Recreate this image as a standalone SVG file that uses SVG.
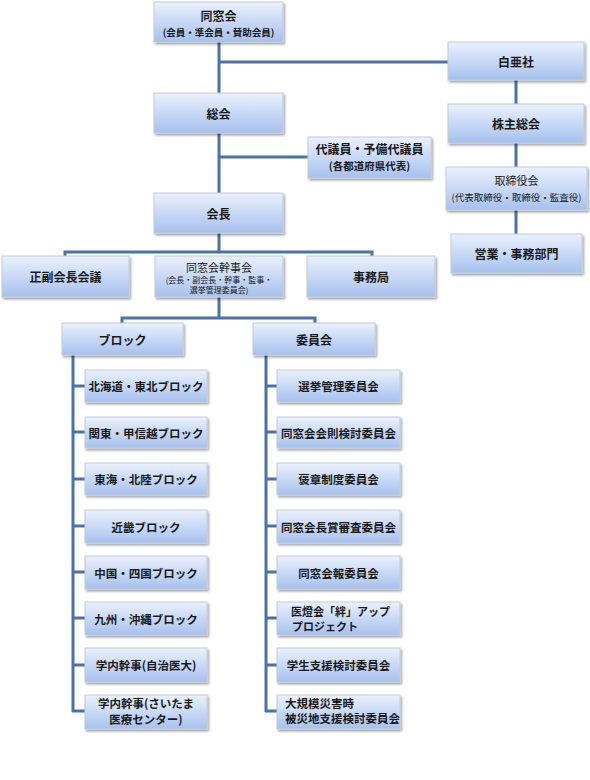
<svg xmlns="http://www.w3.org/2000/svg" width="590" height="780" viewBox="0 0 590 780">
<defs>
<linearGradient id="g" x1="0" y1="0" x2="0" y2="1">
<stop offset="0" stop-color="#eaf1fd"/>
<stop offset="1" stop-color="#a6c1ee"/>
</linearGradient>
<filter id="sh" x="-10%" y="-10%" width="125%" height="140%">
<feDropShadow dx="1.5" dy="2" stdDeviation="1.2" flood-color="#000" flood-opacity="0.35"/>
</filter>
</defs>
<style>
.b{fill:url(#g);stroke:#c4cbd6;stroke-width:1;filter:url(#sh)}
.t{font-family:"Noto Sans CJK JP","Noto Sans",sans-serif;font-weight:bold;font-size:12px;fill:#1a1a1a;text-anchor:middle;dominant-baseline:central}
.s{font-size:9.5px}
.m{font-size:11.5px}
.n{font-weight:normal}
.l{text-anchor:start}
.c{fill:none;stroke:#4a73a8;stroke-width:3}
</style>
<g id="connectors">
<path class="c" d="M219,42V93M219,62H448M219,133V193M219,157H308M219,233V252M65,256V252H372V256M219,297V318M122,323V318H315V323"/>
<path class="c" d="M516,80V104M516,143V167M516,210V234"/>
<path class="c" d="M73,355V712M72,386H85M72,432H85M72,479H85M72,526H85M72,572H85M72,618H85M72,665H85M72,711H85"/>
<path class="c" d="M266,355V712M265,386H277M265,432H277M265,479H277M265,526H277M265,572H277M265,618H277M265,665H277M265,711H277"/>
</g>
<g id="dosokai"><rect class="b" x="154" y="2" width="129" height="40"/><text class="t" x="218.5" y="15">同窓会</text><text class="t s" x="218.5" y="32">(会員・準会員・賛助会員)</text></g>
<g id="hakuasha"><rect class="b" x="448" y="42" width="136" height="38"/><text class="t" x="516" y="61">白亜社</text></g>
<g id="sokai"><rect class="b" x="154" y="93" width="129" height="40"/><text class="t" x="218.5" y="113">総会</text></g>
<g id="kabunushi"><rect class="b" x="448" y="104" width="136" height="39"/><text class="t" x="516" y="123.5">株主総会</text></g>
<g id="daigiin"><rect class="b" x="308" y="137" width="123" height="41"/><text class="t" x="369.5" y="148">代議員・予備代議員</text><text class="t" style="font-size:10.5px" x="369.5" y="165">(各都道府県代表)</text></g>
<g id="torishimariyaku"><rect class="b" x="446" y="167" width="141" height="43"/><text class="t n" style="font-size:11px" x="516.5" y="180">取締役会</text><text class="t s n" x="516.5" y="197">(代表取締役・取締役・監査役)</text></g>
<g id="kaicho"><rect class="b" x="154" y="193" width="129" height="40"/><text class="t" x="218.5" y="213">会長</text></g>
<g id="eigyo"><rect class="b" x="451" y="234" width="131" height="39"/><text class="t" x="516.5" y="253.5">営業・事務部門</text></g>
<g id="fukukaicho"><rect class="b" x="2" y="256" width="127" height="41"/><text class="t" x="65.5" y="276.5">正副会長会議</text></g>
<g id="kanjikai"><rect class="b" x="155" y="256" width="128" height="41"/><text class="t n" style="font-size:11px" x="219" y="267">同窓会幹事会</text><text class="t n" style="font-size:8px" x="219" y="279">(会長・副会長・幹事・監事・</text><text class="t n" style="font-size:8px" x="219" y="289">選挙管理委員会)</text></g>
<g id="jimukyoku"><rect class="b" x="307" y="256" width="128" height="41"/><text class="t" x="371" y="276.5">事務局</text></g>
<g id="block"><rect class="b" x="62" y="323" width="121" height="32"/><text class="t" x="122.5" y="339">ブロック</text></g>
<g id="iinkai"><rect class="b" x="253" y="323" width="122" height="32"/><text class="t" x="314" y="339">委員会</text></g>
<g id="b1"><rect class="b" x="85" y="370" width="122" height="32"/><text class="t m" x="146" y="386">北海道・東北ブロック</text></g>
<g id="b2"><rect class="b" x="85" y="417" width="122" height="31"/><text class="t m" x="146" y="432.5">関東・甲信越ブロック</text></g>
<g id="b3"><rect class="b" x="85" y="463" width="122" height="32"/><text class="t m" x="146" y="479">東海・北陸ブロック</text></g>
<g id="b4"><rect class="b" x="85" y="510" width="122" height="33"/><text class="t m" x="146" y="526.5">近畿ブロック</text></g>
<g id="b5"><rect class="b" x="85" y="556" width="122" height="33"/><text class="t m" x="146" y="572.5">中国・四国ブロック</text></g>
<g id="b6"><rect class="b" x="85" y="602" width="122" height="33"/><text class="t m" x="146" y="618.5">九州・沖縄ブロック</text></g>
<g id="b7"><rect class="b" x="85" y="648" width="122" height="34"/><text class="t m" x="146" y="665">学内幹事(自治医大)</text></g>
<g id="b8"><rect class="b" x="85" y="695" width="122" height="34"/><text class="t m" x="146" y="703">学内幹事(さいたま</text><text class="t m" x="146" y="719">医療センター)</text></g>
<g id="i1"><rect class="b" x="277" y="370" width="123" height="32"/><text class="t m" x="338.5" y="386">選挙管理委員会</text></g>
<g id="i2"><rect class="b" x="277" y="417" width="123" height="31"/><text class="t m" x="338.5" y="432.5">同窓会会則検討委員会</text></g>
<g id="i3"><rect class="b" x="277" y="463" width="123" height="32"/><text class="t m" x="338.5" y="479">褒章制度委員会</text></g>
<g id="i4"><rect class="b" x="277" y="510" width="123" height="33"/><text class="t m" x="338.5" y="526.5">同窓会長賞審査委員会</text></g>
<g id="i5"><rect class="b" x="277" y="556" width="123" height="33"/><text class="t m" x="338.5" y="572.5">同窓会報委員会</text></g>
<g id="i6"><rect class="b" x="277" y="602" width="123" height="33"/><text class="t l" style="font-size:11px" x="291" y="610.5">医燈会「絆」アップ</text><text class="t l" style="font-size:11px" x="292" y="625.5">プロジェクト</text></g>
<g id="i7"><rect class="b" x="277" y="648" width="123" height="34"/><text class="t m" x="338.5" y="665">学生支援検討委員会</text></g>
<g id="i8"><rect class="b" x="277" y="695" width="123" height="34"/><text class="t m l" x="285" y="703">大規模災害時</text><text class="t m l" x="285" y="717.5">被災地支援検討委員会</text></g>
</svg>
